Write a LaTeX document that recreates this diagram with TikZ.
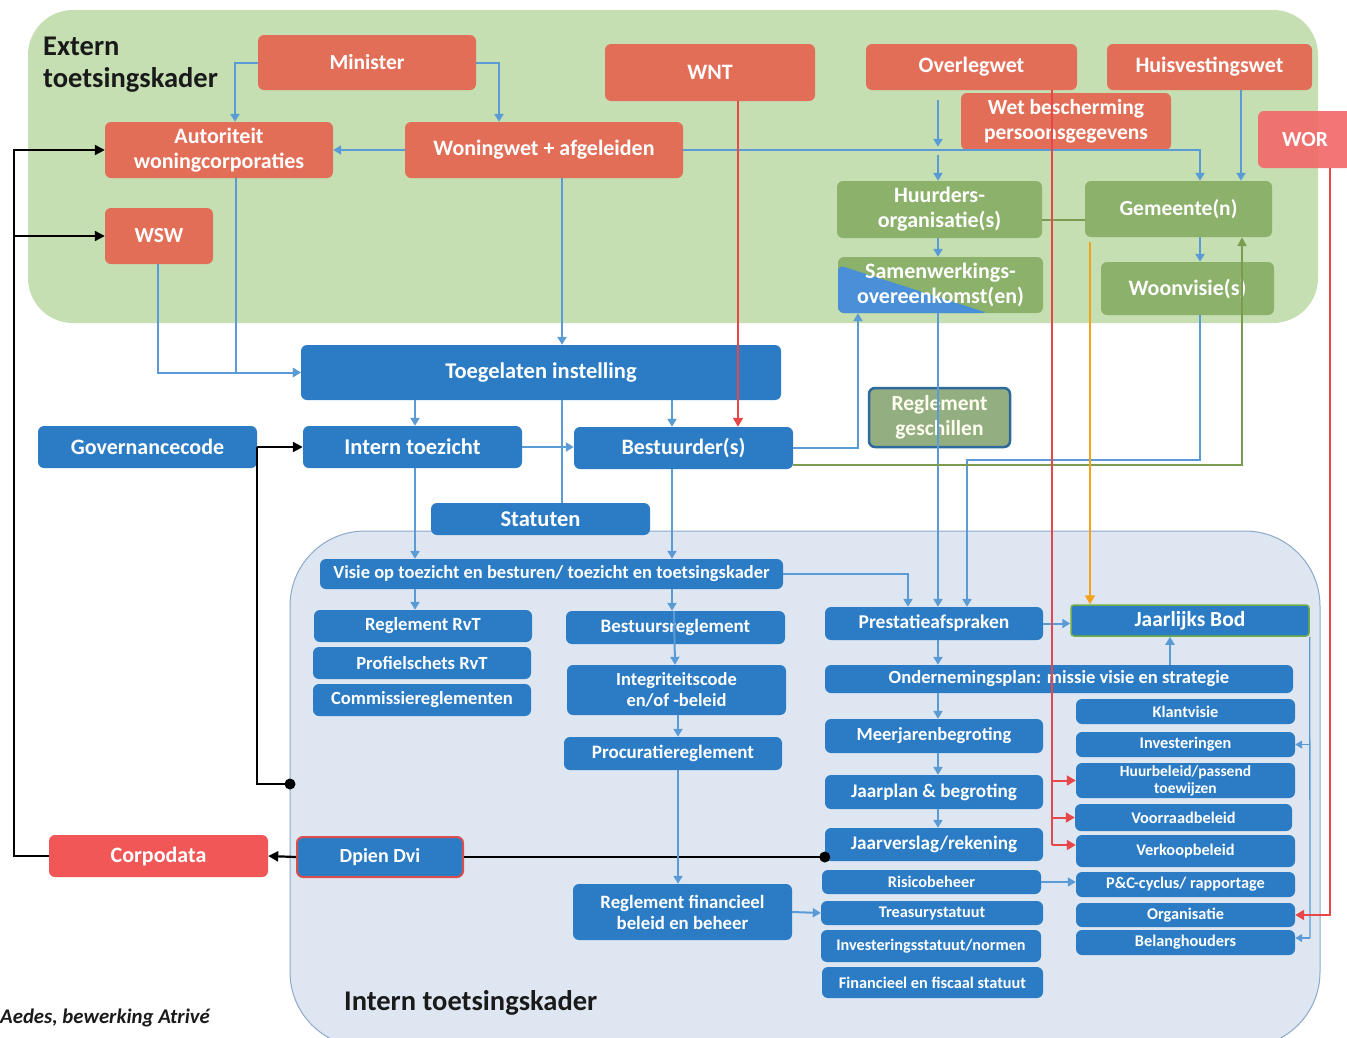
\documentclass[tikz,border=0pt]{standalone}
\usepackage{fontspec}
\setmainfont{Carlito}
\usetikzlibrary{arrows.meta}
\definecolor{greenbg}{HTML}{C5DFB3}
\definecolor{redc}{HTML}{E36E58}
\definecolor{worc}{HTML}{F26A6A}
\definecolor{corpc}{HTML}{F25757}
\definecolor{greenc}{HTML}{8CB16B}
\definecolor{geschc}{HTML}{93AF82}
\definecolor{geschbd}{HTML}{2E6A9B}
\definecolor{bluec}{HTML}{2B7CC5}
\definecolor{samblue}{HTML}{4A90D9}
\definecolor{bline}{HTML}{5B9BD5}
\definecolor{internbg}{HTML}{DEE6F2}
\definecolor{internbd}{HTML}{8EA8C9}
\definecolor{rline}{HTML}{E8474A}
\definecolor{oline}{HTML}{F2A31B}
\definecolor{gline}{HTML}{7B9C4F}
\definecolor{bodbd}{HTML}{70AD47}
\definecolor{titlec}{HTML}{1A1A1A}
\newcommand\mybox[7]{\node[#2, minimum width={(#5-#3)*1pt}, minimum height={(#6-#4)*1pt}] (#1) at ({(#3+#5)/2},{(#4+#6)/2}) {#7};}
\tikzset{
  fs/.style 2 args={font=\bfseries\fontsize{#1}{#2}\selectfont},
  box/.style={rounded corners=6pt, text=white, align=center, inner sep=0pt},
  redbox/.style={box, fill=redc},
  worbox/.style={box, fill=worc, fill opacity=0.92, text opacity=1},
  corpbox/.style={box, fill=corpc},
  grbox/.style={box, fill=greenc},
  geschbox/.style={box, fill=geschc, draw=geschbd, line width=2.5pt, text=white!94!yellow},
  blbox/.style={box, fill=bluec},
  bodbox/.style={box, fill=bluec, draw=bodbd, line width=1.5pt, rounded corners=3pt},
  dpbox/.style={box, fill=bluec, draw=corpc!90!black, line width=2pt},
  sam/.style={path picture={\fill[samblue] ([yshift=-8pt]path picture bounding box.north west) -- ([xshift=150pt]path picture bounding box.south west) -- (path picture bounding box.south west) -- cycle;}},
  bln/.style={draw=bline, line width=2pt},
  bl/.style={bln, -{Triangle[length=8pt,width=9pt]}},
  blt/.style={draw=bline, line width=1.3pt},
  blta/.style={blt, -{Triangle[length=7pt,width=8pt]}},
  rln/.style={draw=rline, line width=2pt},
  rl/.style={rln, -{Triangle[length=9pt,width=10pt]}},
  gl/.style={draw=gline, line width=2pt, -{Triangle[length=9pt,width=9pt]}},
  gthin/.style={draw=gline, line width=1.2pt},
  ol/.style={draw=oline, line width=2pt, -{Triangle[length=9pt,width=10pt]}},
  blk/.style={draw=black, line width=2.2pt},
  blka/.style={blk, -{Triangle[length=10pt,width=10pt]}},
}
\begin{document}
\begin{tikzpicture}[x=1pt,y=-1pt]
\useasboundingbox (0,0) rectangle (1347,1037);
\fill[white] (0,0) rectangle (1347,1037);
% regions
\fill[greenbg, rounded corners=45pt] (28,10) rectangle (1318,323);
\filldraw[fill=internbg, draw=internbd, line width=1pt, rounded corners=75pt] (290,531) rectangle (1320,1047);
% titles
\node[anchor=north west, align=left, inner sep=0pt, text=titlec, font=\bfseries\fontsize{28.5}{32}\selectfont] (exttitle) at (43,37) {Extern\\toetsingskader};
\node[anchor=base west, inner sep=0pt, text=titlec, font=\bfseries\fontsize{28.5}{32}\selectfont] (inttitle) at (344,1010) {Intern toetsingskader};
\node[anchor=base west, inner sep=0pt, text=titlec, font=\bfseries\itshape\fontsize{20.8}{24}\selectfont] (source) at (0,1023) {Aedes, bewerking Atrivé};
% external nodes
\mybox{minister}{redbox,fs={21.5}{24}}{258}{35}{476}{90}{Minister}
\mybox{wnt}{redbox,fs={22}{24}}{605}{44}{815}{101}{WNT}
\mybox{overleg}{redbox,fs={22}{24}}{866}{44}{1077}{90}{Overlegwet}
\mybox{huisv}{redbox,fs={22}{24}}{1107}{44}{1312}{90}{Huisvestingswet}
\mybox{wbp}{redbox,fs={21.5}{25}}{961}{93}{1171}{150}{Wet bescherming\\persoonsgegevens}
\mybox{wor}{worbox,fs={21.5}{24}}{1258}{111}{1352}{168}{WOR}
\mybox{auth}{redbox,fs={22}{25}}{105}{122}{333}{178}{Autoriteit\\woningcorporaties}
\mybox{woningwet}{redbox,fs={22}{24}}{405}{122}{683}{178}{Woningwet + afgeleiden}
\mybox{wsw}{redbox,fs={21.5}{24}}{105}{208}{213}{264}{WSW}
\mybox{huurders}{grbox,fs={22}{25}}{837}{181}{1042}{238}{Huurders-\\organisatie(s)}
\mybox{samen}{grbox,sam,fs={22}{25}}{838}{257}{1043}{313}{Samenwerkings-\\overeenkomst(en)}
\mybox{gemeente}{grbox,fs={21.5}{24}}{1085}{181}{1272}{237}{Gemeente(n)}
\mybox{woonvisie}{grbox,fs={22}{24}}{1101}{262}{1274}{315}{Woonvisie(s)}
\mybox{geschil}{geschbox,fs={21.5}{25}}{869}{388}{1010}{447}{Reglement\\geschillen}
% governance nodes
\mybox{toegelaten}{blbox,fs={22.5}{24}}{301}{345}{781}{400}{Toegelaten instelling}
\mybox{governance}{blbox,fs={22}{24}}{38}{426}{257}{468}{Governancecode}
\mybox{interntz}{blbox,fs={22.5}{24}}{303}{426}{522}{468}{Intern toezicht}
\mybox{bestuurder}{blbox,fs={22}{24}}{574}{427}{793}{469}{Bestuurder(s)}
\mybox{statuten}{blbox,fs={22.5}{24}}{431}{503}{650}{535}{Statuten}
\mybox{visie}{blbox,fs={18.5}{20}}{320}{559}{783}{589}{Visie op toezicht en besturen/ toezicht en toetsingskader}
\mybox{regrvt}{blbox,fs={18.6}{20}}{314}{610}{532}{642}{Reglement RvT}
\mybox{profiel}{blbox,fs={18.6}{20}}{313}{647}{531}{679}{Profielschets RvT}
\mybox{commissie}{blbox,fs={18.6}{20}}{313}{684}{531}{716}{Commissiereglementen}
\mybox{bestreg}{blbox,fs={19}{20}}{566}{611}{785}{644}{Bestuursreglement}
\mybox{integr}{blbox,fs={18.5}{21}}{567}{665}{786}{715}{Integriteitscode\\en/of -beleid}
\mybox{procur}{blbox,fs={19}{20}}{564}{737}{782}{770}{Procuratiereglement}
\mybox{regfin}{blbox,fs={18.8}{21}}{573}{884}{792}{940}{Reglement financieel\\beleid en beheer}
\mybox{dpien}{dpbox,fs={20}{22}}{297}{837}{463}{877}{Dpien Dvi}
\mybox{corpodata}{corpbox,fs={22}{24}}{49}{835}{268}{877}{Corpodata}
% internal right side
\mybox{prestatie}{blbox,fs={19.5}{20}}{825}{607}{1043}{640}{Prestatieafspraken}
\mybox{bod}{bodbox,fs={21.5}{22}}{1071}{605}{1309}{636}{Jaarlijks Bod}
\mybox{onderneming}{blbox,fs={18.6}{20}}{825}{665}{1293}{693}{Ondernemingsplan: missie visie en strategie}
\mybox{meerjaren}{blbox,fs={18.5}{20}}{825}{719}{1043}{753}{Meerjarenbegroting}
\mybox{jaarplan}{blbox,fs={19.2}{20}}{825}{775}{1043}{809}{Jaarplan \& begroting}
\mybox{jaarverslag}{blbox,fs={19.2}{20}}{825}{828}{1043}{861}{Jaarverslag/rekening}
\mybox{risico}{blbox,fs={16.3}{17}}{822}{870}{1041}{894}{Risicobeheer}
\mybox{treasury}{blbox,fs={16.3}{17}}{821}{901}{1043}{925}{Treasurystatuut}
\mybox{investst}{blbox,fs={16.2}{17}}{821}{930}{1041}{962}{Investeringsstatuut/normen}
\mybox{fiscaal}{blbox,fs={16.3}{17}}{822}{967}{1043}{998}{Financieel en fiscaal statuut}
\mybox{klant}{blbox,fs={16.3}{17}}{1076}{699}{1295}{724}{Klantvisie}
\mybox{invest}{blbox,fs={16.3}{17}}{1076}{732}{1295}{757}{Investeringen}
\mybox{huur}{blbox,fs={15.5}{17}}{1076}{763}{1295}{798}{Huurbeleid/passend\\toewijzen}
\mybox{voorraad}{blbox,fs={16.3}{17}}{1075}{804}{1292}{831}{Voorraadbeleid}
\mybox{verkoop}{blbox,fs={16.3}{17}}{1076}{835}{1295}{867}{Verkoopbeleid}
\mybox{pc}{blbox,fs={16.3}{17}}{1076}{872}{1295}{897}{P\&C-cyclus/ rapportage}
\mybox{organisatie}{blbox,fs={16.3}{17}}{1076}{903}{1295}{927}{Organisatie}
\mybox{belang}{blbox,fs={16.3}{17}}{1076}{930}{1295}{955}{Belanghouders}
% black connectors
\coordinate (leftrail) at (14,856);
\draw[blka] (corpodata.west) -- (leftrail) |- (auth.west);
\draw[blka] (leftrail |- wsw.west) -- (wsw.west);
\draw[blka] (governance.east) -- (interntz.west);
\coordinate (govdot) at (290,784);
\draw[blk] (governance.east) |- (govdot);
\fill (govdot) circle (5.5pt);
\draw[blk] (jaarverslag.west |- dpien.east) -- (dpien.east);
\fill (jaarverslag.west |- dpien.east) circle (5.5pt);
\draw[blka] (dpien.west) -- (corpodata.east);
% blue connectors, external
\draw[bl] (minister.west) -| ([xshift=16pt]auth.north);
\draw[bl] (minister.east) -| ([xshift=-45pt]woningwet.north);
\draw[bl] (woningwet.west) -- (auth.east);
\draw[bl] (woningwet.east) -| ([xshift=21.5pt]gemeente.north);
\draw[bl] ([xshift=-33.5pt,yshift=-10pt]overleg.south) -- ([xshift=-1.5pt,yshift=34pt]huurders.north);
\draw[bl] ([xshift=-1.5pt,yshift=26pt]huurders.north) -- ([xshift=-1.5pt]huurders.north);
\draw[bl] ([xshift=31.5pt]huisv.south) -- ([xshift=62.5pt]gemeente.north);
\draw[gthin] ([yshift=-10.5pt]huurders.east) -- ([yshift=-11pt]gemeente.west);
\draw[bl] ([xshift=-1.5pt]huurders.south) -- ([xshift=-2.5pt]samen.north);
\draw[bl] ([xshift=21.5pt]gemeente.south) -- ([xshift=12.5pt]woonvisie.north);
\draw[bl] ([xshift=-1pt]wsw.south) |- (toegelaten.west);
\draw[bl] ([xshift=17pt]auth.south) |- (toegelaten.west);
\draw[bl] ([xshift=18pt]woningwet.south) -- ([xshift=21pt]toegelaten.north);
% governance connectors
\draw[bl] ([xshift=-126pt]toegelaten.south) -- ([xshift=2.5pt]interntz.north);
\draw[bl] ([xshift=131pt]toegelaten.south) -- ([xshift=-11.5pt]bestuurder.north);
\draw[bln] ([xshift=21pt]toegelaten.south) -- ([xshift=21.5pt]statuten.north);
\draw[bl] (interntz.east) -- (interntz.east -| bestuurder.west);
\draw[bl] ([xshift=2.5pt]interntz.south) -- ([xshift=-136.5pt]visie.north);
\draw[bl] ([xshift=-11.5pt]bestuurder.south) -- ([xshift=120.5pt]visie.north);
\draw[bl] ([xshift=-136.5pt]visie.south) -- ([xshift=-8pt]regrvt.north);
\draw[bl] ([xshift=120.5pt]visie.south) -- ([xshift=-3.5pt]bestreg.north);
\draw[bl] ([xshift=-1.5pt]bestreg.north) -- ([xshift=-1.5pt]integr.north);
\draw[bl] ([xshift=1.5pt]integr.south) -- ([xshift=5pt]procur.north);
\draw[bl] ([xshift=5pt]procur.south) -- ([xshift=-4.5pt]regfin.north);
\draw[bl] (regfin.east) -- (treasury.west);
\draw[bl] (visie.east) -| ([xshift=-26pt]prestatie.north);
\draw[bl] ([xshift=-2.5pt]samen.south) -- ([xshift=4pt]prestatie.north);
\draw[bl] (bestuurder.east) -| ([xshift=-82.5pt]samen.south);
\draw[bl] ([xshift=12.5pt]woonvisie.south) -- ++(0,145) -| ([xshift=33pt]prestatie.north);
\draw[gl] ([yshift=-17pt]bestuurder.east) -| ([xshift=63.5pt]gemeente.south);
\draw[ol] ([xshift=-88.5pt,yshift=-5pt]gemeente.south) -- ([xshift=-100pt]bod.north);
% internal planning chain
\draw[bl] ([xshift=111pt]onderneming.north) -- ([xshift=-20pt]bod.south);
\draw[bl] (prestatie.east) -- (prestatie.east -| bod.west);
\draw[bl] ([xshift=4pt]prestatie.south) -- ([xshift=-121pt]onderneming.north);
\draw[bl] ([xshift=-121pt]onderneming.south) -- ([xshift=4pt]meerjaren.north);
\draw[bl] ([xshift=4pt]meerjaren.south) -- ([xshift=4pt]jaarplan.north);
\draw[bl] ([xshift=4pt]jaarplan.south) -- ([xshift=4pt]jaarverslag.north);
\draw[bl] (risico.east) -- (risico.east -| pc.west);
\coordinate (bodrail) at (1310,938);
\draw[blt] (bod.south east) -- (bodrail);
\draw[blta] (bodrail |- invest.east) -- (invest.east);
\draw[blta] (bodrail) -- (bodrail -| belang.east);
% red connectors
\draw[rl] ([xshift=28pt]wnt.south) -- ([xshift=54.5pt]bestuurder.north);
\coordinate (redrail) at (1051.5,845);
\draw[rln] ([xshift=80pt]overleg.south) -- (redrail);
\draw[rl] (redrail |- huur.west) -- (huur.west);
\draw[rl] (redrail |- voorraad.west) -- (voorraad.west);
\draw[rl] (redrail) -- ([yshift=6pt]verkoop.west);
\draw[rl] ([xshift=25pt]wor.south) |- (organisatie.east);
\end{tikzpicture}
\end{document}
